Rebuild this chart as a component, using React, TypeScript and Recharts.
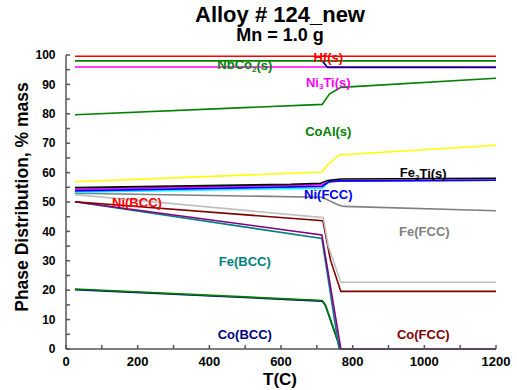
import { LineChart, Line, XAxis, YAxis, ReferenceDot } from 'recharts';

const FONT = '"Liberation Sans", Arial, sans-serif';

// temperature (C) / % mass pairs
const T_SPAN = [25, 1200];
const HF_S = [99.6, 99.6];
const NBCO2_S = [98, 98];
const NI3TI_S = [95.9, 95.9];
const T_NAVY_TOP = [715, 730, 1200];
const NAVY_TOP = [98, 95.8, 95.8];
const T_COAL = [25, 715, 735, 767, 1200];
const COAL_S = [79.7, 83.2, 86.7, 89.0, 92.1];
const T_YELLOW = [25, 714, 730, 762, 1200];
const YELLOW = [56.9, 60.2, 62.6, 66.0, 69.3];
const T_FE2TI = [25, 627, 711, 730, 767, 1200];
const FE2TI_S = [54.9, 56.0, 56.4, 57.3, 57.8, 58.1];
const T_NIFCC = [25, 715, 734, 767, 1200];
const NI_FCC = [53.8, 55.3, 56.9, 57.2, 57.4];
const MAGENTA2 = [54.3, 55.9, 56.9, 57.2, 57.4];
const T_CYAN = [25, 715, 730, 744, 767, 1200];
const CYAN = [53.3, 54.7, 56.4, 57.1, 57.2, 57.4];
const T_FEFCC = [25, 715, 760, 775, 1200];
const FE_FCC = [53.0, 51.6, 49.0, 48.5, 47.0];
const T_SILVER = [25, 718, 732, 767, 1200];
const SILVER = [52.5, 44.7, 35.0, 22.7, 22.7];
const T_COFCC = [25, 717, 738, 767, 1200];
const CO_FCC = [50.1, 43.6, 30.3, 19.6, 19.6];
const T_PURPLE = [25, 714, 767, 1200];
const PURPLE = [50.1, 38.8, 0, 0];
const T_FEBCC = [25, 714, 762, 1200];
const FE_BCC = [50.1, 37.6, 0, 0];
const T_COBCC = [25, 715, 724, 766];
const CO_BCC_GREEN = [20.4, 16.5, 15.0, 0];
const CO_BCC_NAVY = [20.2, 16.3, 14.8, 0];

const X_TICKS = [0, 100, 200, 300, 400, 500, 600, 700, 800, 900, 1000, 1100, 1200];
const Y_TICKS = [0, 5, 10, 15, 20, 25, 30, 35, 40, 45, 50, 55, 60, 65, 70, 75, 80, 85, 90, 95, 100];

const pts = (t: number[], v: number[]) => t.map((x, i) => ({ t: x, v: v[i] }));

const series = [
  { key: 'coBccNavy', data: pts(T_COBCC, CO_BCC_NAVY), color: '#000080' },
  { key: 'coBccGreen', data: pts(T_COBCC, CO_BCC_GREEN), color: '#008000' },
  { key: 'feBcc', data: pts(T_FEBCC, FE_BCC), color: '#008080' },
  { key: 'purple', data: pts(T_PURPLE, PURPLE), color: '#800080' },
  { key: 'coFcc', data: pts(T_COFCC, CO_FCC), color: '#800000' },
  { key: 'silver', data: pts(T_SILVER, SILVER), color: '#c0c0c0' },
  { key: 'feFcc', data: pts(T_FEFCC, FE_FCC), color: '#808080' },
  { key: 'cyan', data: pts(T_CYAN, CYAN), color: '#00ffff' },
  { key: 'magenta2', data: pts(T_NIFCC, MAGENTA2), color: '#ff00ff' },
  { key: 'niFcc', data: pts(T_NIFCC, NI_FCC), color: '#0000ff' },
  { key: 'fe2ti', data: pts(T_FE2TI, FE2TI_S), color: '#000000' },
  { key: 'yellow', data: pts(T_YELLOW, YELLOW), color: '#ffff00' },
  { key: 'coal', data: pts(T_COAL, COAL_S), color: '#008000' },
  { key: 'ni3ti', data: pts(T_SPAN, NI3TI_S), color: '#ff00ff' },
  { key: 'navyTop', data: pts(T_NAVY_TOP, NAVY_TOP), color: '#000080' },
  { key: 'nbco2', data: pts(T_SPAN, NBCO2_S), color: '#008000' },
  { key: 'hf', data: pts(T_SPAN, HF_S), color: '#ff0000' },
];

// phase labels: [text, subscript, rest, T, %, colour]
const LABELS: [string, string, string, number, number, string][] = [
  ['Hf(s)', '', '', 732, 99.0, '#ff0000'],
  ['NbCo', '2', '(s)', 499, 96.6, '#008000'],
  ['Ni', '3', 'Ti(s)', 732, 90.8, '#ff00ff'],
  ['CoAl(s)', '', '', 732, 74.1, '#008000'],
  ['Fe', '2', 'Ti(s)', 997, 60.0, '#000000'],
  ['Ni(FCC)', '', '', 732, 52.7, '#0000ff'],
  ['Ni(BCC)', '', '', 198, 49.8, '#ff0000'],
  ['Fe(FCC)', '', '', 1000, 39.8, '#808080'],
  ['Fe(BCC)', '', '', 499, 29.6, '#008080'],
  ['Co(BCC)', '', '', 499, 4.8, '#000080'],
  ['Co(FCC)', '', '', 997, 4.8, '#800000'],
];

const AXIS = { stroke: '#555', strokeWidth: 1.5 };

function PhaseLabel({ cx, cy, a, sub, b, color }: any) {
  return (
    <text x={cx} y={cy} textAnchor="middle" dominantBaseline="central"
      fill={color} fontFamily={FONT} fontSize={13} fontWeight="bold">
      {a}
      {sub && <tspan fontSize={8} dy={4}>{sub}</tspan>}
      {sub && <tspan dy={-4}>{b}</tspan>}
    </text>
  );
}

export default function App() {
  return (
    <div style={{ position: 'absolute', left: 0, top: 0, width: 517, height: 390, background: '#fff' }}>
      <LineChart width={517} height={390} margin={{ top: 55, right: 21, bottom: 11, left: 6 }}>
        <XAxis type="number" dataKey="t" domain={[0, 1200]} ticks={X_TICKS} interval={0}
          height={30} tickSize={-4} tickMargin={12} axisLine={AXIS} tickLine={AXIS}
          tickFormatter={(v: number) => (v % 200 === 0 ? String(v) : '')}
          tick={{ fontSize: 13, fontWeight: 'bold', fill: '#000', fontFamily: FONT }} />
        <XAxis xAxisId="top" orientation="top" type="number" dataKey="t" domain={[0, 1200]}
          ticks={X_TICKS} interval={0} height={0} tickSize={-4} axisLine={AXIS} tickLine={AXIS}
          tickFormatter={() => ''} allowDataOverflow />
        <YAxis type="number" domain={[0, 100]} ticks={Y_TICKS} interval={0} width={60}
          tickSize={-4} tickMargin={14.5} axisLine={AXIS} tickLine={AXIS}
          tickFormatter={(v: number) => (v % 10 === 0 ? String(v) : '')}
          tick={{ fontSize: 12, fontWeight: 'bold', fill: '#000', fontFamily: FONT }} />
        <YAxis yAxisId="right" orientation="right" type="number" domain={[0, 100]} ticks={Y_TICKS}
          interval={0} width={0} tickSize={-4} axisLine={AXIS} tickLine={AXIS}
          tickFormatter={() => ''} allowDataOverflow />

        {series.map(s => (
          <Line key={s.key} data={s.data} dataKey="v" type="linear" stroke={s.color}
            strokeWidth={1.6} dot={false} activeDot={false} isAnimationActive={false} />
        ))}

        {LABELS.map(([a, sub, b, t, v, color]) => (
          <ReferenceDot key={a + b} x={t} y={v} r={0}
            shape={(p: any) => <PhaseLabel cx={p.cx} cy={p.cy} a={a} sub={sub} b={b} color={color} />} />
        ))}
      </LineChart>

      <svg width={517} height={390} style={{ position: 'absolute', left: 0, top: 0, pointerEvents: 'none' }}>
        <text x={280} y={22} textAnchor="middle" fontFamily={FONT} fontSize={22} fontWeight="bold">Alloy # 124_new</text>
        <text x={280} y={41} textAnchor="middle" fontFamily={FONT} fontSize={18} fontWeight="bold">Mn = 1.0 g</text>
        <text x={280} y={385} textAnchor="middle" fontFamily={FONT} fontSize={17} fontWeight="bold">T(C)</text>
        <text x={22} y={197} textAnchor="middle" dominantBaseline="central" transform="rotate(-90 22 197)"
          fontFamily={FONT} fontSize={17.5} fontWeight="bold">Phase Distribution, % mass</text>
      </svg>
    </div>
  );
}
